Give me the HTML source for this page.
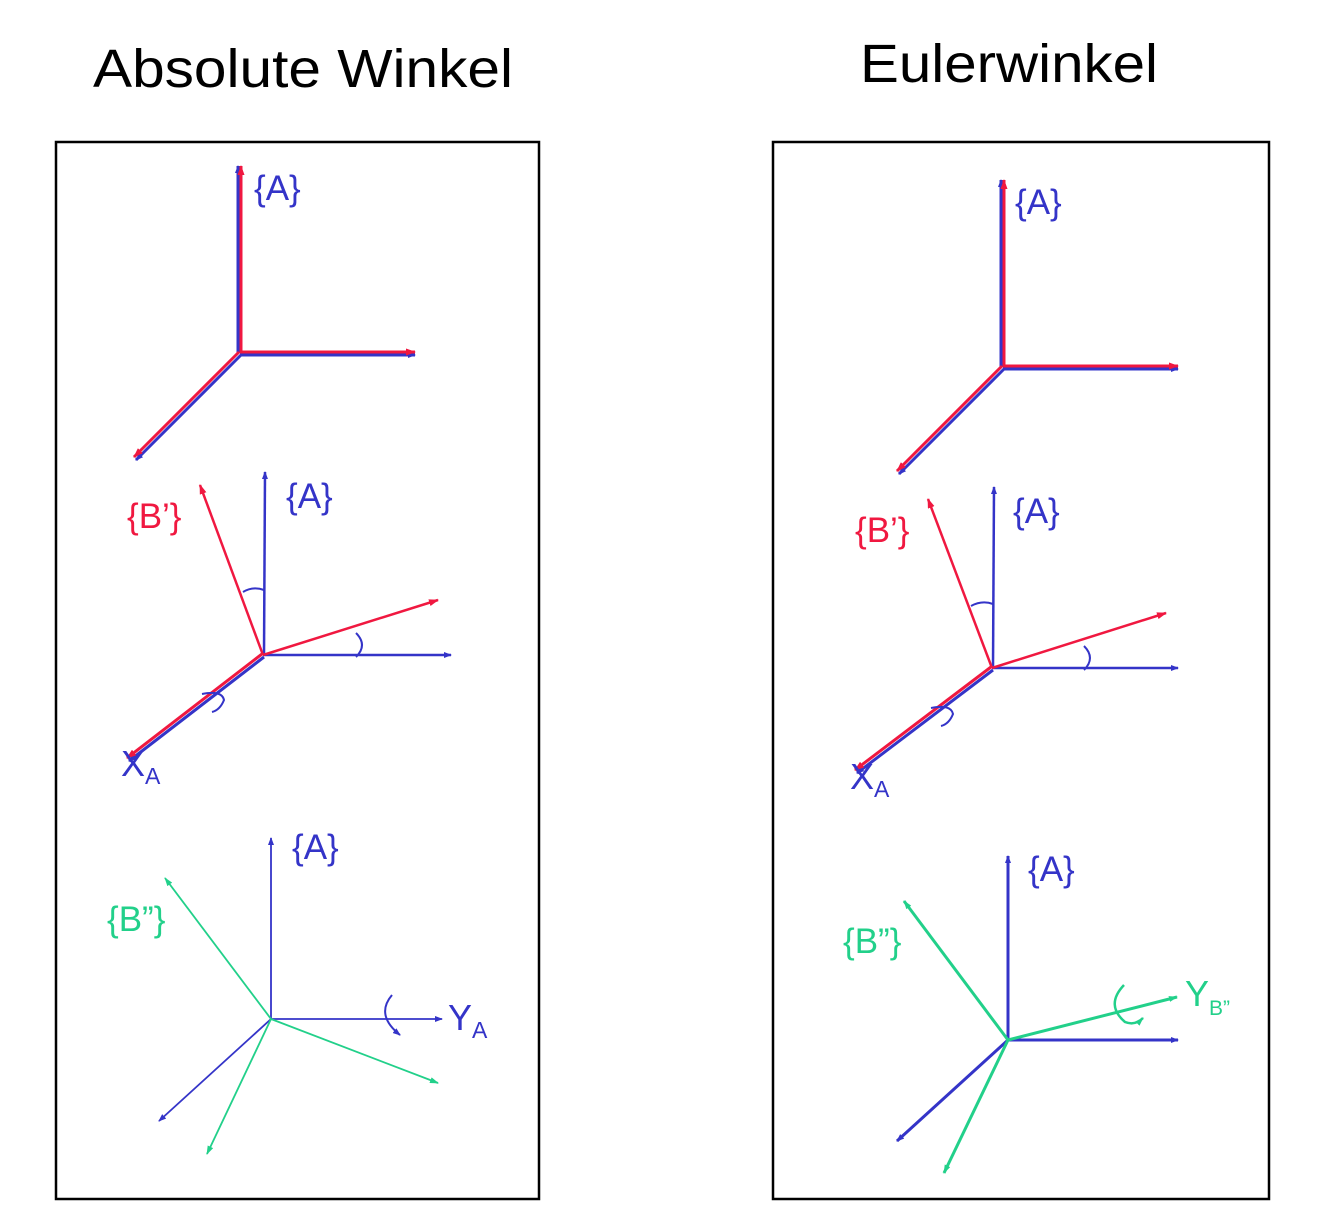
<!DOCTYPE html>
<html><head><meta charset="utf-8"><style>
html,body{margin:0;padding:0;background:#fff;width:1326px;height:1228px;overflow:hidden}
svg{display:block}
text{font-family:"Liberation Sans",sans-serif}
</style></head><body>
<svg width="1326" height="1228" viewBox="0 0 1326 1228">
<defs>
<marker id="ab" markerWidth="8" markerHeight="6" refX="7" refY="3" orient="auto" markerUnits="userSpaceOnUse"><path d="M0,0L8,3L0,6z" fill="#3434c8"/></marker>
<marker id="ar" markerWidth="10" markerHeight="7" refX="9" refY="3.5" orient="auto" markerUnits="userSpaceOnUse"><path d="M0,0L10,3.5L0,7z" fill="#f01840"/></marker>
<marker id="ag" markerWidth="9" markerHeight="6" refX="8" refY="3" orient="auto" markerUnits="userSpaceOnUse"><path d="M0,0L9,3L0,6z" fill="#22d08a"/></marker>
</defs>
<text x="93" y="87" font-size="54" fill="#000" textLength="420" lengthAdjust="spacingAndGlyphs">Absolute Winkel</text>
<text x="860" y="82" font-size="54" fill="#000" textLength="298" lengthAdjust="spacingAndGlyphs">Eulerwinkel</text>
<rect x="56" y="142" width="483" height="1057" fill="none" stroke="#000" stroke-width="2.5"/>
<rect x="773" y="142" width="496" height="1057" fill="none" stroke="#000" stroke-width="2.5"/>

<!-- Left 1 -->
<g stroke-width="3" fill="none">
<line x1="238" y1="353" x2="238" y2="166" stroke="#3434c8" marker-end="url(#ab)"/>
<line x1="241" y1="353" x2="241" y2="166" stroke="#f01840" marker-end="url(#ar)"/>
<line x1="240" y1="355" x2="415" y2="355" stroke="#3434c8" marker-end="url(#ab)"/>
<line x1="240" y1="352" x2="415" y2="352" stroke="#f01840" marker-end="url(#ar)"/>
<line x1="241" y1="355" x2="136" y2="460" stroke="#3434c8" marker-end="url(#ab)"/>
<line x1="239" y1="352" x2="134" y2="457" stroke="#f01840" marker-end="url(#ar)"/>
</g>
<text x="254" y="200" font-size="35" fill="#3434c8">{A}</text>

<!-- Left 2 -->
<g stroke-width="2.5" fill="none">
<line x1="264" y1="655" x2="265" y2="472" stroke="#3434c8" marker-end="url(#ab)"/>
<line x1="263" y1="655" x2="451" y2="655" stroke="#3434c8" marker-end="url(#ab)"/>
<line x1="263" y1="655" x2="438" y2="600" stroke="#f01840" marker-end="url(#ar)"/>
<line x1="263" y1="655" x2="200" y2="485" stroke="#f01840" marker-end="url(#ar)"/>
<line x1="264" y1="657" x2="129" y2="761" stroke="#3434c8" stroke-width="3" marker-end="url(#ab)"/>
<line x1="262" y1="654" x2="127" y2="758" stroke="#f01840" stroke-width="3" marker-end="url(#ar)"/>
<path d="M243,592 Q253,586 264,590" stroke="#3434c8" stroke-width="2"/>
<path d="M356,633 Q368,645 356,657" stroke="#3434c8" stroke-width="2"/>
<path d="M202,694 Q222,690 224,700 Q220,710 212,712" stroke="#3434c8" stroke-width="2"/>
</g>
<text x="286" y="508" font-size="35" fill="#3434c8">{A}</text>
<text x="127" y="528" font-size="35" fill="#f01840">{B’}</text>
<text x="121" y="776" font-size="36" fill="#3434c8">X<tspan font-size="23" dy="8">A</tspan></text>

<!-- Left 3 -->
<g stroke-width="1.8" fill="none">
<line x1="271" y1="1019" x2="271" y2="838" stroke="#3434c8" marker-end="url(#ab)"/>
<line x1="271" y1="1019" x2="442" y2="1019" stroke="#3434c8" marker-end="url(#ab)"/>
<line x1="271" y1="1019" x2="159" y2="1121" stroke="#3434c8" marker-end="url(#ab)"/>
<line x1="271" y1="1019" x2="165" y2="878" stroke="#22d08a" marker-end="url(#ag)"/>
<line x1="271" y1="1019" x2="438" y2="1083" stroke="#22d08a" marker-end="url(#ag)"/>
<line x1="271" y1="1019" x2="207" y2="1154" stroke="#22d08a" marker-end="url(#ag)"/>
<path d="M392,995 Q375,1015 400,1035" stroke="#3434c8" stroke-width="2" marker-end="url(#ab)"/>
</g>
<text x="292" y="859" font-size="35" fill="#3434c8">{A}</text>
<text x="107" y="931" font-size="35" fill="#22d08a">{B”}</text>
<text x="448" y="1030" font-size="36" fill="#3434c8">Y<tspan font-size="23" dy="8">A</tspan></text>

<!-- Right 1 -->
<g stroke-width="3" fill="none">
<line x1="1001" y1="367" x2="1001" y2="180" stroke="#3434c8" marker-end="url(#ab)"/>
<line x1="1004" y1="367" x2="1004" y2="180" stroke="#f01840" marker-end="url(#ar)"/>
<line x1="1003" y1="369" x2="1178" y2="369" stroke="#3434c8" marker-end="url(#ab)"/>
<line x1="1003" y1="366" x2="1178" y2="366" stroke="#f01840" marker-end="url(#ar)"/>
<line x1="1004" y1="369" x2="899" y2="474" stroke="#3434c8" marker-end="url(#ab)"/>
<line x1="1002" y1="366" x2="897" y2="471" stroke="#f01840" marker-end="url(#ar)"/>
</g>
<text x="1015" y="214" font-size="35" fill="#3434c8">{A}</text>

<!-- Right 2 -->
<g stroke-width="2.5" fill="none">
<line x1="993" y1="668" x2="994" y2="487" stroke="#3434c8" marker-end="url(#ab)"/>
<line x1="992" y1="668" x2="1178" y2="668" stroke="#3434c8" marker-end="url(#ab)"/>
<line x1="992" y1="668" x2="1166" y2="613" stroke="#f01840" marker-end="url(#ar)"/>
<line x1="992" y1="668" x2="928" y2="499" stroke="#f01840" marker-end="url(#ar)"/>
<line x1="993" y1="670" x2="857" y2="773" stroke="#3434c8" stroke-width="3" marker-end="url(#ab)"/>
<line x1="991" y1="667" x2="855" y2="770" stroke="#f01840" stroke-width="3" marker-end="url(#ar)"/>
<path d="M971,606 Q982,600 993,604" stroke="#3434c8" stroke-width="2"/>
<path d="M1084,646 Q1096,658 1084,670" stroke="#3434c8" stroke-width="2"/>
<path d="M931,708 Q951,704 953,714 Q949,724 941,726" stroke="#3434c8" stroke-width="2"/>
</g>
<text x="1013" y="523" font-size="35" fill="#3434c8">{A}</text>
<text x="855" y="542" font-size="35" fill="#f01840">{B’}</text>
<text x="850" y="789" font-size="36" fill="#3434c8">X<tspan font-size="23" dy="8">A</tspan></text>

<!-- Right 3 -->
<g stroke-width="3" fill="none">
<line x1="1008" y1="1040" x2="1008" y2="856" stroke="#3434c8" marker-end="url(#ab)"/>
<line x1="1008" y1="1040" x2="1178" y2="1040" stroke="#3434c8" marker-end="url(#ab)"/>
<line x1="1008" y1="1040" x2="897" y2="1141" stroke="#3434c8" marker-end="url(#ab)"/>
<line x1="1008" y1="1040" x2="904" y2="901" stroke="#22d08a" marker-end="url(#ag)"/>
<line x1="1008" y1="1040" x2="1177" y2="997" stroke="#22d08a" marker-end="url(#ag)"/>
<line x1="1008" y1="1040" x2="944" y2="1173" stroke="#22d08a" marker-end="url(#ag)"/>
<path d="M1124,985 Q1105,1005 1125,1022 Q1135,1026 1143,1018" stroke="#22d08a" stroke-width="2.5" marker-end="url(#ag)"/>
</g>
<text x="1028" y="881" font-size="35" fill="#3434c8">{A}</text>
<text x="843" y="953" font-size="35" fill="#22d08a">{B”}</text>
<text x="1185" y="1006" font-size="36" fill="#22d08a">Y<tspan font-size="21" dy="9">B”</tspan></text>
</svg>
</body></html>
